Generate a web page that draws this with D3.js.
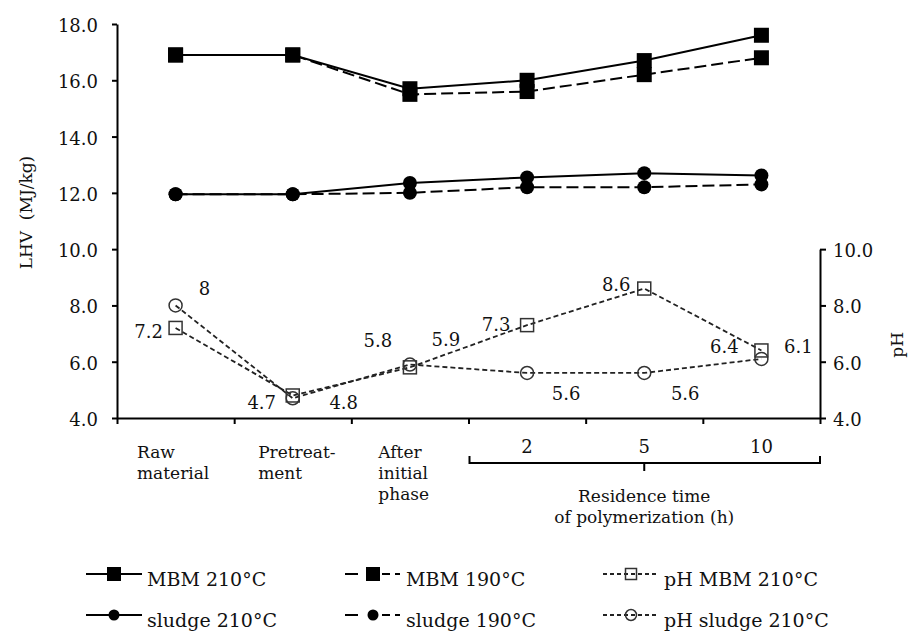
<!DOCTYPE html>
<meta charset="utf-8">
<style>
body { margin: 0; background: #fff; }
svg { font-family: "DejaVu Serif", serif; }
</style>
<body>
<script src="https://d3js.org/d3.v7.min.js"></script>
<script>

var w = 908,
    h = 632;

// Data
var categories = [["Raw", "material"], ["Pretreat-", "ment"], ["After", "initial", "phase"], ["2"], ["5"], ["10"]];
var mbm210 = [16.9, 16.9, 15.7, 16.0, 16.7, 17.6];
var mbm190 = [16.9, 16.9, 15.5, 15.6, 16.2, 16.8];
var sludge210 = [11.95, 11.95, 12.35, 12.55, 12.7, 12.62];
var sludge190 = [11.95, 11.95, 12.0, 12.2, 12.2, 12.3];
var phMbm = [7.2, 4.8, 5.8, 7.3, 8.6, 6.4];
var phSludge = [8, 4.7, 5.9, 5.6, 5.6, 6.1];
var lhvTicks = [4, 6, 8, 10, 12, 14, 16, 18];
var phTicks = [4, 6, 8, 10];

// label placement for the pH value labels (dx, dy from the point)
var phMbmLabelPos = [[-27, 10], [51, 14], [-32, -20], [-31, 6], [-28, 2], [-37, 3]];
var phSludgeLabelPos = [[29, -10], [-31, 11], [36, -19], [39, 27], [41, 27], [37, -6]];

var svg = d3.select("body").append("svg")
    .attr("width", w)
    .attr("height", h);

var x = d3.scaleBand().domain(d3.range(categories.length)).range([117, 820]),
    xEdge = d3.scaleLinear().domain([0, categories.length]).range([117, 820]),
    y = d3.scaleLinear().domain([4, 18]).range([418, 24]),
    yPh = d3.scaleLinear().domain([4, 10]).range([418, y(10)]);

function cx(d, i) { return x(i) + x.bandwidth() / 2; }

// axes
var gl = svg.append("g")
    .attr("transform", "translate(117,0)")
    .call(d3.axisLeft(y).tickValues(lhvTicks).tickFormat(d3.format(".1f"))
      .tickSizeInner(5).tickSizeOuter(0).tickPadding(14));

var gr = svg.append("g")
    .attr("transform", "translate(820,0)")
    .call(d3.axisRight(yPh).tickValues(phTicks).tickFormat(d3.format(".1f"))
      .tickSizeInner(6).tickSizeOuter(0).tickPadding(7));

var gb = svg.append("g")
    .attr("transform", "translate(0,418)")
    .call(d3.axisBottom(xEdge).tickValues(d3.range(categories.length + 1)).tickFormat("")
      .tickSizeInner(6).tickSizeOuter(0));

[gl, gr, gb].forEach(function(g) {
  g.attr("font-family", null).attr("font-size", 18);
  g.selectAll("path, line").attr("stroke", "#000").attr("stroke-width", 2);
  g.selectAll("text").attr("fill", "#111");
});
gl.selectAll("text").attr("dy", "0.42em");
gr.selectAll("text").attr("dy", "0.42em");

// axis titles
svg.append("text")
    .attr("transform", "translate(32," + (y(11.3)) + ") rotate(-90)")
    .attr("text-anchor", "middle")
    .attr("font-size", 17)
    .attr("fill", "#111")
    .attr("xml:space", "preserve")
    .text("LHV  (MJ/kg)");

svg.append("text")
    .attr("transform", "translate(903," + yPh(6.6) + ") rotate(-90)")
    .attr("text-anchor", "middle")
    .attr("font-size", 17)
    .attr("fill", "#111")
    .text("pH");

// category labels
var catOffset = [20, 24, 27];
categories.forEach(function(lines, i) {
  if (lines.length > 1) {
    var t = svg.append("text")
        .attr("font-size", 17)
        .attr("fill", "#111");
    lines.forEach(function(s, j) {
      t.append("tspan")
          .attr("x", x(i) + catOffset[i])
          .attr("y", 458 + j * 21)
          .text(s);
    });
  } else {
    svg.append("text")
        .attr("x", cx(null, i))
        .attr("y", 453)
        .attr("text-anchor", "middle")
        .attr("font-size", 18)
        .attr("fill", "#111")
        .text(lines[0]);
  }
});

// bracket for residence time
var bx0 = xEdge(3) + 1, bx1 = xEdge(6), bmid = cx(null, 4);
svg.append("path")
    .attr("d", "M" + bx0 + ",456V463H" + bx1 + "V456M" + bmid + ",463V471")
    .attr("fill", "none")
    .attr("stroke", "#000")
    .attr("stroke-width", 2);

svg.append("text")
    .attr("text-anchor", "middle")
    .attr("font-size", 17)
    .attr("fill", "#111")
    .selectAll("tspan")
    .data(["Residence time", "of polymerization (h)"])
  .enter().append("tspan")
    .attr("x", bmid)
    .attr("y", function(d, j) { return 502 + j * 21; })
    .text(function(d) { return d; });

// series
var series = [
  {v: mbm210, sc: y, dash: null, w: 2, sym: "square", fill: "#000", size: 15, col: "#000", key: null},
  {v: mbm190, sc: y, dash: "12,5", w: 2, sym: "square", fill: "#000", size: 15, col: "#000", key: "13,24,8,5,5"},
  {v: sludge210, sc: y, dash: null, w: 2, sym: "circle", fill: "#000", size: 14, col: "#000", key: null},
  {v: sludge190, sc: y, dash: "12,5", w: 2, sym: "circle", fill: "#000", size: 14, col: "#000", key: "13,24,8,5,5"},
  {v: phMbm, sc: yPh, dash: "5,3", w: 1.8, sym: "square", fill: "none", size: 13, col: "#222", key: "4,3"},
  {v: phSludge, sc: yPh, dash: "5,3", w: 1.8, sym: "circle", fill: "none", size: 13, col: "#222", key: "4,3"}
];

series.forEach(function(s) {
  var line = d3.line()
      .x(function(d, i) { return cx(d, i); })
      .y(function(d) { return s.sc(d); });
  svg.append("path")
      .datum(s.v)
      .attr("d", line)
      .attr("fill", "none")
      .attr("stroke", s.col)
      .attr("stroke-width", s.w)
      .attr("stroke-dasharray", s.dash);
});

function drawMarker(g, s, px, py, size) {
  if (s.sym === "square") {
    g.append("rect")
        .attr("x", px - size / 2).attr("y", py - size / 2)
        .attr("width", size).attr("height", size)
        .attr("fill", s.fill)
        .attr("stroke", s.fill === "none" ? "#333" : null)
        .attr("stroke-width", 1.5);
  } else {
    g.append("circle")
        .attr("cx", px).attr("cy", py).attr("r", size / 2)
        .attr("fill", s.fill)
        .attr("stroke", s.fill === "none" ? "#333" : null)
        .attr("stroke-width", 1.5);
  }
}

series.forEach(function(s) {
  var g = svg.append("g");
  s.v.forEach(function(d, i) { drawMarker(g, s, cx(d, i), s.sc(d), s.size); });
});

// pH value labels
[[phMbm, phMbmLabelPos], [phSludge, phSludgeLabelPos]].forEach(function(p) {
  svg.append("g")
      .selectAll("text")
      .data(p[0])
    .enter().append("text")
      .attr("x", function(d, i) { return cx(d, i) + p[1][i][0]; })
      .attr("y", function(d, i) { return yPh(d) + p[1][i][1]; })
      .attr("text-anchor", "middle")
      .attr("font-size", 18)
      .attr("fill", "#111")
      .text(function(d) { return String(d); });
});

// legend
var legendNames = ["MBM 210°C", "MBM 190°C", "pH MBM 210°C", "sludge 210°C", "sludge 190°C", "pH sludge 210°C"];
var legendSeries = [0, 1, 4, 2, 3, 5];
var legendCols = [86, 345, 603],
    legendRows = [574, 615];

legendNames.forEach(function(name, k) {
  var s = series[legendSeries[k]],
      lx = legendCols[k % 3],
      ly = legendRows[Math.floor(k / 3)],
      g = svg.append("g");
  g.append("line")
      .attr("x1", lx).attr("x2", lx + 56)
      .attr("y1", ly).attr("y2", ly)
      .attr("stroke", s.col)
      .attr("stroke-width", s.w)
      .attr("stroke-dasharray", s.key);
  drawMarker(g, s, lx + 28, ly, s.fill === "none" ? 11 : (s.sym === "square" ? 14 : 11));
  g.append("text")
      .attr("x", lx + 61)
      .attr("y", ly + 12)
      .attr("font-size", 19)
      .attr("fill", "#111")
      .text(name);
});

</script>
